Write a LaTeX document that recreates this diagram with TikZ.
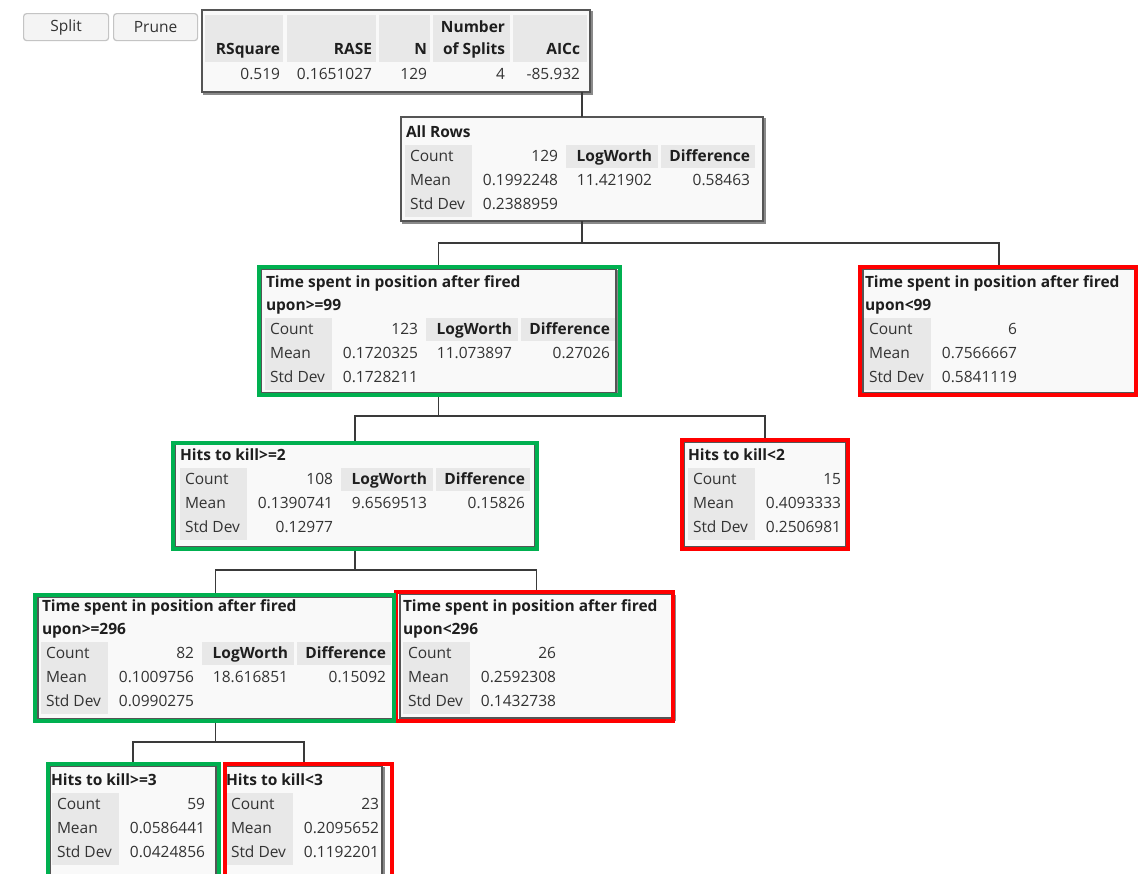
\documentclass[tikz,border=0pt]{standalone}
\usepackage{fontspec}
\setmainfont{Open Sans}
\usetikzlibrary{calc}

\definecolor{cellgray}{HTML}{E8E8E8}
\definecolor{panelfill}{HTML}{F9F9F9}
\definecolor{boxgray}{HTML}{555555}
\definecolor{shadowgray}{HTML}{8A8A8A}
\definecolor{linkgray}{HTML}{3A3A3A}
\definecolor{txtcol}{HTML}{333333}
\definecolor{hdrcol}{HTML}{1E1E1E}
\definecolor{jgreen}{HTML}{00B050}
\definecolor{jred}{HTML}{FF0000}
\definecolor{btnborder}{HTML}{C4C4C4}
\definecolor{btnfill}{HTML}{F4F4F4}

\tikzset{
  txt/.style={inner sep=0pt, outer sep=0pt, text height=11pt, text depth=3pt,
    font=\fontsize{15.5}{18}\selectfont, text=txtcol},
  hdr/.style={txt, font=\bfseries\fontsize{15.5}{18}\selectfont, text=hdrcol},
  jmpnode/.style={draw=boxgray, line width=1.2pt, fill=panelfill, inner sep=0pt,
    outer sep=0pt, anchor=north west},
  btn/.style={draw=btnborder, fill=btnfill, line width=1.2pt, rounded corners=3pt,
    inner sep=0pt, anchor=north west, font=\fontsize{15.5}{18}\selectfont, text=txtcol},
  link/.style={draw=linkgray, line width=1.4pt},
  gframe/.style={draw=jgreen, line width=4.5pt},
  rframe/.style={draw=jred, line width=4.5pt},
}

% a result panel given by its corners
\newcommand{\jmpbox}[5]{%
  \node[jmpnode, minimum width=#4pt-#2pt, minimum height=#5pt-#3pt] (#1) at (#2,#3) {};
  \draw[shadowgray, line width=1.6pt] ([xshift=1.8pt,yshift=-1pt]#1.north east)
    -- ([xshift=1.8pt,yshift=-1.8pt]#1.south east) -- ([xshift=1pt,yshift=-1.8pt]#1.south west);
}
% one-line and two-line split titles
\newcommand{\titleone}[4]{\node[hdr,anchor=west] (#1-t) at (#2,#3) {#4};}
\newcommand{\titletwo}[5]{%
  \node[hdr,anchor=west] (#1-t) at (#2,#3) {#4};
  \node[hdr,anchor=west] (#1-u) at (#2,#3+23) {#5};}
% count / mean / std dev block: prefix, cell left, first row, values
\newcommand{\statcells}[6]{%
  \fill[cellgray] (#2,#3-12) rectangle (#2+67,#3+60);
  \node[txt,anchor=west] (#1-lc) at (#2+5,#3) {Count};
  \node[txt,anchor=west] (#1-lm) at (#2+5,#3+24) {Mean};
  \node[txt,anchor=west] (#1-ls) at (#2+5,#3+48) {Std Dev};
  \node[txt,anchor=east] (#1-vc) at (#2+153,#3) {#4};
  \node[txt,anchor=east] (#1-vm) at (#2+153,#3+24) {#5};
  \node[txt,anchor=east] (#1-vs) at (#2+153,#3+48) {#6};}
% logworth / difference block of a node that is split further
\newcommand{\splitcells}[5]{%
  \fill[cellgray] (#2+161,#3-12) rectangle (#2+253,#3+11);
  \fill[cellgray] (#2+256,#3-12) rectangle (#2+350,#3+11);
  \node[hdr,anchor=east] (#1-hl) at (#2+247,#3) {LogWorth};
  \node[hdr,anchor=east] (#1-hd) at (#2+345,#3) {Difference};
  \node[txt,anchor=east] (#1-vl) at (#2+247,#3+24) {#4};
  \node[txt,anchor=east] (#1-vd) at (#2+345,#3+24) {#5};}

\begin{document}
\begin{tikzpicture}[x=1pt,y=-1pt]
\useasboundingbox[fill=white] (0,0) rectangle (1140,873);

% buttons
\node[btn, minimum width=85pt, minimum height=27pt] (split) at (23,13) {Split};
\node[btn, minimum width=84pt, minimum height=27pt] (prune) at (113,13) {Prune};

% summary table
\jmpbox{stats}{202}{10}{590}{92}
\fill[cellgray] (205,15) rectangle (283,62);
\fill[cellgray] (287,15) rectangle (376,62);
\fill[cellgray] (379,15) rectangle (430,62);
\fill[cellgray] (433,15) rectangle (510,62);
\fill[cellgray] (513,15) rectangle (587,62);
\node[hdr,anchor=east] (h-rsq) at (280,50) {RSquare};
\node[hdr,anchor=east] (h-rase) at (372,50) {RASE};
\node[hdr,anchor=east] (h-n) at (427,50) {N};
\node[hdr,anchor=east] (h-ns1) at (505,28) {Number};
\node[hdr,anchor=east] (h-ns2) at (505,50) {of Splits};
\node[hdr,anchor=east] (h-aic) at (580,50) {AICc};
\node[txt,anchor=east] (v-rsq) at (280,75) {0.519};
\node[txt,anchor=east] (v-rase) at (372,75) {0.1651027};
\node[txt,anchor=east] (v-n) at (427,75) {129};
\node[txt,anchor=east] (v-ns) at (505,75) {4};
\node[txt,anchor=east] (v-aic) at (580,75) {-85.932};

% tree panels
\jmpbox{allrows}{401}{117}{763}{221}
\titleone{allrows}{406}{133}{All Rows}
\statcells{allrows}{405}{157}{129}{0.1992248}{0.2388959}
\splitcells{allrows}{405}{157}{11.421902}{0.58463}

\jmpbox{g1}{261}{269}{616}{393}
\titletwo{g1}{266}{283}{Time spent in position after fired}{upon>=99}
\statcells{g1}{265}{330}{123}{0.1720325}{0.1728211}
\splitcells{g1}{265}{330}{11.073897}{0.27026}

\jmpbox{r1}{863}{269}{1135}{393}
\titletwo{r1}{865}{283}{Time spent in position after fired}{upon<99}
\statcells{r1}{864}{330}{6}{0.7566667}{0.5841119}

\jmpbox{g2}{175}{444}{535}{547}
\titleone{g2}{180}{456}{Hits to kill>=2}
\statcells{g2}{180}{480}{108}{0.1390741}{0.12977}
\splitcells{g2}{180}{480}{9.6569513}{0.15826}

\jmpbox{r2}{684}{442}{846}{547}
\titleone{r2}{688}{456}{Hits to kill<2}
\statcells{r2}{688}{480}{15}{0.4093333}{0.2506981}

\jmpbox{g3}{38}{597}{393}{719}
\titletwo{g3}{42}{607}{Time spent in position after fired}{upon>=296}
\statcells{g3}{41}{654}{82}{0.1009756}{0.0990275}
\splitcells{g3}{41}{654}{18.616851}{0.15092}

\jmpbox{r3}{400}{594}{673}{718}
\titletwo{r3}{403}{607}{Time spent in position after fired}{upon<296}
\statcells{r3}{403}{654}{26}{0.2592308}{0.1432738}

\jmpbox{g4}{50}{766}{216}{890}
\titleone{g4}{51}{781}{Hits to kill>=3}
\statcells{g4}{52}{805}{59}{0.0586441}{0.0424856}

\jmpbox{r4}{226}{766}{382}{890}
\titleone{r4}{226}{781}{Hits to kill<3}
\statcells{r4}{226}{805}{23}{0.2095652}{0.1192201}

% connectors
\coordinate (bus1) at (0,243);
\coordinate (bus2) at (0,416);
\coordinate (bus3) at (0,570);
\coordinate (bus4) at (0,742);
\draw[link] (allrows.north) -- (allrows.north |- stats.south);
\draw[link] (allrows.south) -- (allrows.south |- bus1) -| (g1.north);
\draw[link] (allrows.south |- bus1) -| (r1.north);
\draw[link] (g1.south) -- (g1.south |- bus2) -| (g2.north);
\draw[link] (g1.south |- bus2) -| (r2.north);
\draw[link] (g2.south) -- (g2.south |- bus3) -| (g3.north);
\draw[link] (g2.south |- bus3) -| (r3.north);
\draw[link] (g3.south) -- (g3.south |- bus4) -| (g4.north);
\draw[link] (g3.south |- bus4) -| (r4.north);

% highlight frames
\draw[gframe] (259,267) rectangle (620,395);
\draw[rframe] (860,267) rectangle (1136,395);
\draw[gframe] (173,443) rectangle (537,549);
\draw[rframe] (682,440) rectangle (848,549);
\draw[rframe] (396,592) rectangle (673,721);
\draw[gframe] (35,595) rectangle (394,721);
\draw[gframe] (48,764) rectangle (219,885);
\draw[rframe] (225,764) rectangle (392,885);
\end{tikzpicture}
\end{document}
